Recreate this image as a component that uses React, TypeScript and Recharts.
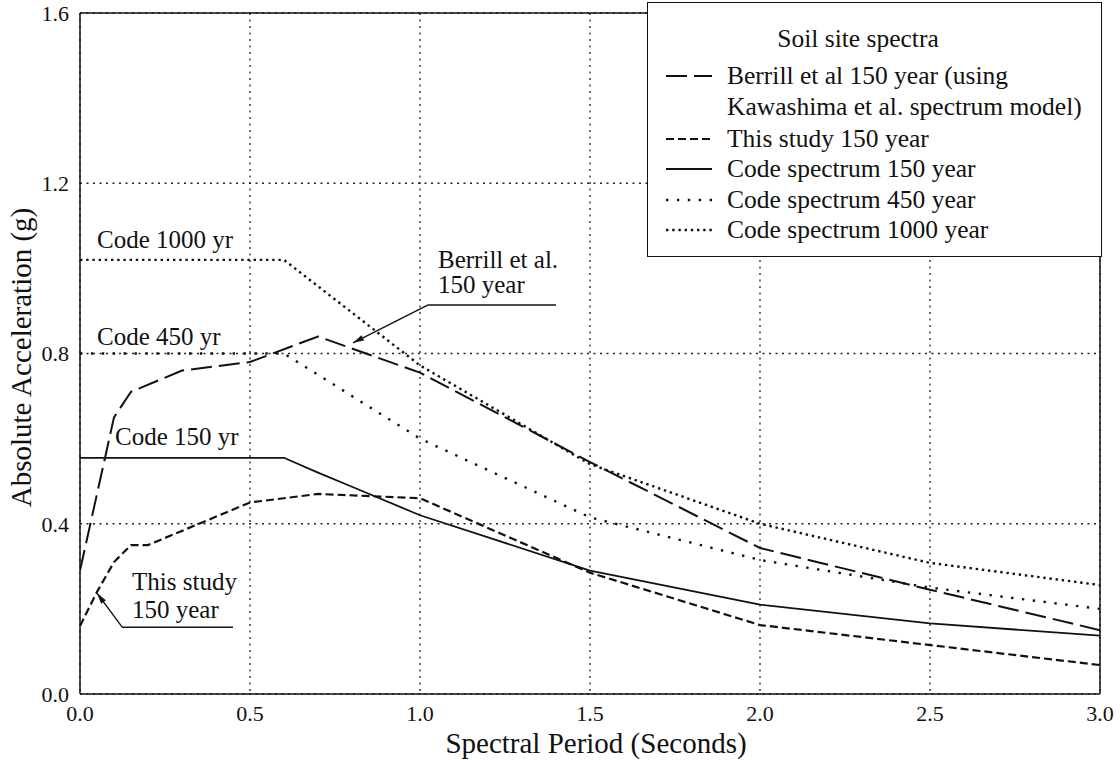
import React from 'react';
import {
  LineChart,
  Line,
  XAxis,
  YAxis,
  CartesianGrid,
  ReferenceLine,
  ReferenceDot,
  Label,
} from 'recharts';

const FONT = '"Liberation Serif", "Times New Roman", Times, serif';
const INK = '#111';

// Berrill et al. 150 year (Kawashima et al. spectrum model)
const berrillPeriod = [0, 0.1, 0.15, 0.3, 0.5, 0.7, 1.0, 1.5, 2.0, 2.5, 3.0];
const berrillAccel = [0.29, 0.65, 0.71, 0.76, 0.78, 0.84, 0.755, 0.545, 0.343, 0.245, 0.15];

// This study 150 year
const studyPeriod = [0, 0.05, 0.1, 0.15, 0.2, 0.5, 0.7, 1.0, 1.5, 2.0, 2.5, 3.0];
const studyAccel = [0.16, 0.24, 0.31, 0.35, 0.35, 0.45, 0.47, 0.46, 0.285, 0.162, 0.115, 0.068];

// Code spectra
const codePeriod = [0, 0.6, 0.7, 0.8, 1.0, 1.5, 2.0, 2.5, 3.0];
const code150Accel = [0.555, 0.555, 0.52, 0.487, 0.42, 0.29, 0.21, 0.166, 0.137];
const code450Accel = [0.8, 0.8, 0.75, 0.7, 0.6, 0.415, 0.315, 0.25, 0.2];
const code1000Accel = [1.02, 1.02, 0.958, 0.896, 0.772, 0.54, 0.4, 0.308, 0.256];

const xTicks = [0, 0.5, 1.0, 1.5, 2.0, 2.5, 3.0];
const yTicks = [0, 0.4, 0.8, 1.2, 1.6];

const toPoints = (period: number[], accel: number[]) =>
  period.map((t, i) => ({ t, a: accel[i] }));

type Series = {
  key: string;
  legend: string[];
  data: { t: number; a: number }[];
  dash?: string;
  width: number;
};

const series: Series[] = [
  {
    key: 'berrill',
    legend: ['Berrill et al 150 year (using', 'Kawashima et al. spectrum model)'],
    data: toPoints(berrillPeriod, berrillAccel),
    dash: '21 7',
    width: 2,
  },
  {
    key: 'study',
    legend: ['This study 150 year'],
    data: toPoints(studyPeriod, studyAccel),
    dash: '8 4',
    width: 2.2,
  },
  {
    key: 'code150',
    legend: ['Code spectrum 150 year'],
    data: toPoints(codePeriod, code150Accel),
    width: 1.8,
  },
  {
    key: 'code450',
    legend: ['Code spectrum 450 year'],
    data: toPoints(codePeriod, code450Accel),
    dash: '2.4 8.5',
    width: 2.4,
  },
  {
    key: 'code1000',
    legend: ['Code spectrum 1000 year'],
    data: toPoints(codePeriod, code1000Accel),
    dash: '2.4 3.8',
    width: 2.4,
  },
];

// In-plot curve labels, anchored at (period, acceleration) of the text baseline start
const curveLabels = [
  { text: 'Code 1000 yr', t: 0.05, a: 1.048 },
  { text: 'Code 450 yr', t: 0.05, a: 0.82 },
  { text: 'Code 150 yr', t: 0.103, a: 0.585 },
  { text: 'This study', t: 0.153, a: 0.244 },
  { text: '150 year', t: 0.153, a: 0.179 },
  { text: 'Berrill et al.', t: 1.053, a: 1.0 },
  { text: '150 year', t: 1.053, a: 0.942 },
];

// Leader lines from the labels to their curves; the last segment of each ends in an arrow
const leaders = [
  { from: { t: 0.45, a: 0.157 }, to: { t: 0.124, a: 0.157 }, arrow: false },
  { from: { t: 0.124, a: 0.157 }, to: { t: 0.05, a: 0.237 }, arrow: true },
  { from: { t: 1.4, a: 0.914 }, to: { t: 1.024, a: 0.914 }, arrow: false },
  { from: { t: 1.024, a: 0.914 }, to: { t: 0.803, a: 0.825 }, arrow: true },
];

const LeaderShape = (props: any) => {
  const { x1, y1, x2, y2, arrow } = props;
  const ang = Math.atan2(y2 - y1, x2 - x1);
  const len = 11;
  const half = 3;
  const bx = x2 - len * Math.cos(ang);
  const by = y2 - len * Math.sin(ang);
  const px = -Math.sin(ang) * half;
  const py = Math.cos(ang) * half;
  return (
    <g>
      <line x1={x1} y1={y1} x2={x2} y2={y2} stroke={INK} strokeWidth={1.4} />
      {arrow && (
        <polygon
          points={`${x2},${y2} ${bx + px},${by + py} ${bx - px},${by - py}`}
          fill={INK}
        />
      )}
    </g>
  );
};

const YTitle = (props: any) => {
  const vb = props.viewBox || { x: 0, y: 13, width: 80, height: 681 };
  const cx = vb.x + 31;
  const cy = vb.y + vb.height / 2 + 4;
  return (
    <text
      x={cx}
      y={cy}
      transform={`rotate(-90, ${cx}, ${cy})`}
      textAnchor="middle"
      fontFamily={FONT}
      fontSize={29}
      fill={INK}
    >
      Absolute Acceleration (g)
    </text>
  );
};

const XTitle = (props: any) => {
  const vb = props.viewBox || { x: 80, y: 694, width: 1020, height: 66 };
  return (
    <text
      x={vb.x + vb.width / 2 + 6}
      y={vb.y + 59}
      textAnchor="middle"
      fontFamily={FONT}
      fontSize={29}
      fill={INK}
    >
      Spectral Period (Seconds)
    </text>
  );
};

const tickStyle = { fontFamily: FONT, fontSize: 22, fill: INK };

const LegendBox = () => {
  const rowTop = [58, 89, 121, 151, 182, 212];
  let row = 0;
  return (
    <div
      style={{
        position: 'absolute',
        left: 647,
        top: 2,
        width: 455,
        height: 255,
        boxSizing: 'border-box',
        border: `1.5px solid ${INK}`,
        background: '#fff',
        fontFamily: FONT,
        fontSize: 25.5,
        color: INK,
        lineHeight: '30px',
      }}
    >
      <div style={{ position: 'absolute', left: 0, width: 420, top: 21, textAlign: 'center' }}>
        Soil site spectra
      </div>
      {series.map((s) => {
        const top = rowTop[row];
        const items = s.legend.map((line, i) => {
          const el = (
            <div
              key={s.key + i}
              style={{ position: 'absolute', left: 79, top: rowTop[row], whiteSpace: 'nowrap' }}
            >
              {line}
            </div>
          );
          row += 1;
          return el;
        });
        return (
          <React.Fragment key={s.key}>
            <svg
              width={48}
              height={10}
              style={{ position: 'absolute', left: 18, top: top + 10 }}
            >
              <line
                x1={0}
                y1={5}
                x2={46}
                y2={5}
                stroke={INK}
                strokeWidth={s.width}
                strokeDasharray={s.dash}
              />
            </svg>
            {items}
          </React.Fragment>
        );
      })}
    </div>
  );
};

export default function App() {
  return (
    <div
      style={{
        position: 'absolute',
        left: 0,
        top: 0,
        width: 1120,
        height: 760,
        background: '#fff',
      }}
    >
      <LineChart width={1120} height={760} margin={{ top: 13, right: 20, bottom: 0, left: 0 }}>
        <CartesianGrid stroke="#222" strokeWidth={1.3} strokeDasharray="2 4.5" />
        <XAxis
          type="number"
          dataKey="t"
          domain={[0, 3]}
          ticks={xTicks}
          allowDataOverflow
          height={66}
          tickLine={false}
          tickSize={0}
          tickMargin={11}
          axisLine={{ stroke: INK, strokeWidth: 1.5 }}
          tick={tickStyle}
          tickFormatter={(v: number) => v.toFixed(1)}
        >
          <Label content={XTitle} />
        </XAxis>
        <YAxis
          type="number"
          domain={[0, 1.6]}
          ticks={yTicks}
          allowDataOverflow
          width={80}
          tickLine={false}
          tickSize={0}
          tickMargin={11}
          axisLine={{ stroke: INK, strokeWidth: 1.5 }}
          tick={tickStyle}
          tickFormatter={(v: number) => v.toFixed(1)}
        >
          <Label content={YTitle} />
        </YAxis>
        <ReferenceLine y={1.6} stroke={INK} strokeWidth={1.5} />
        <ReferenceLine x={3} stroke={INK} strokeWidth={1.5} />
        {series.map((s) => (
          <Line
            key={s.key}
            data={s.data}
            dataKey="a"
            type="linear"
            stroke={INK}
            strokeWidth={s.width}
            strokeDasharray={s.dash}
            dot={false}
            activeDot={false}
            isAnimationActive={false}
          />
        ))}
        {leaders.map((l, i) => (
          <ReferenceLine
            key={'leader' + i}
            segment={[
              { x: l.from.t, y: l.from.a },
              { x: l.to.t, y: l.to.a },
            ]}
            shape={(p: any) => <LeaderShape {...p} arrow={l.arrow} />}
          />
        ))}
        {curveLabels.map((c, i) => (
          <ReferenceDot
            key={'lbl' + i}
            x={c.t}
            y={c.a}
            r={0}
            shape={(p: any) => (
              <text x={p.cx} y={p.cy} fontFamily={FONT} fontSize={25} fill={INK}>
                {c.text}
              </text>
            )}
          />
        ))}
      </LineChart>
      <LegendBox />
    </div>
  );
}
